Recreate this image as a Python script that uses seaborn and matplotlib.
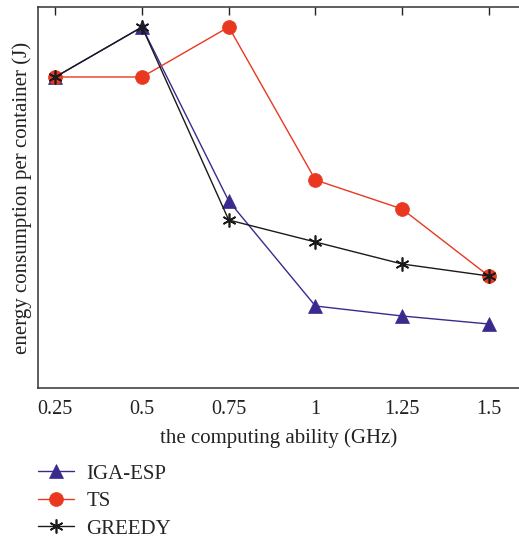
import matplotlib
matplotlib.use("Agg")
import matplotlib.pyplot as plt
import seaborn as sns
import pandas as pd

x_vals = [0.25, 0.5, 0.75, 1.0, 1.25, 1.5]
x_labels = ["0.25", "0.5", "0.75", "1", "1.25", "1.5"]
iga_esp = [311, 361, 187, 82, 72, 64]
ts = [311, 311, 361, 208, 179, 112]
greedy = [311, 361, 168, 146, 124, 112]
series_names = ["IGA-ESP", "TS", "GREEDY"]

sns.set_theme(style="white")
plt.rcParams['font.family'] = ['Liberation Serif', 'DejaVu Serif']

df = pd.DataFrame({
    "x": x_vals * 3,
    "y": iga_esp + ts + greedy,
    "series": sum([[n] * len(x_vals) for n in series_names], []),
})

colors = {"IGA-ESP": "#3a2a8e", "TS": "#e9381f", "GREEDY": "#1a1a1a"}
markers = {"IGA-ESP": "^", "TS": "o", "GREEDY": (6, 2, 0)}
msizes = {"IGA-ESP": 10, "TS": 10, "GREEDY": 10}

fig = plt.figure(figsize=(5.19, 5.40), dpi=100)
ax = fig.add_axes([38/519, 1 - 388/540, 1 - 38/519 + 0.002, (388 - 7)/540])

for name in series_names:
    sub = df[df["series"] == name]
    sns.lineplot(data=sub, x="x", y="y", ax=ax, color=colors[name],
                 marker=markers[name], markersize=msizes[name],
                 markeredgecolor=colors[name], markeredgewidth=1.2 if name == "GREEDY" else 0.5,
                 linewidth=1.0, label=name, legend=False)

ax.set_xlim(0.2, 1.59)
ax.set_ylim(0, 381)
ax.set_xticks(x_vals)
ax.set_xticklabels(x_labels)
ax.set_yticks([])
ax.tick_params(axis="x", direction="in", top=True, length=6, width=1, labelsize=14.5, pad=9, colors="#222222")
for s in ["left", "top", "bottom"]:
    ax.spines[s].set_color("#333333")
    ax.spines[s].set_linewidth(1.1)
ax.spines["right"].set_visible(False)
ax.set_xlabel("the computing ability (GHz)", fontsize=15, color="#222222", labelpad=6)
ax.set_ylabel("energy consumption per container (J)", fontsize=15, color="#222222", labelpad=4)

handles, labels = ax.get_legend_handles_labels()
fig.legend(handles, labels, loc="upper left", bbox_to_anchor=(0.058, 0.156),
           frameon=False, fontsize=15, handlelength=1.7, labelspacing=0.38,
           handletextpad=0.6, borderaxespad=0)

fig.savefig("out.png", dpi=100)
